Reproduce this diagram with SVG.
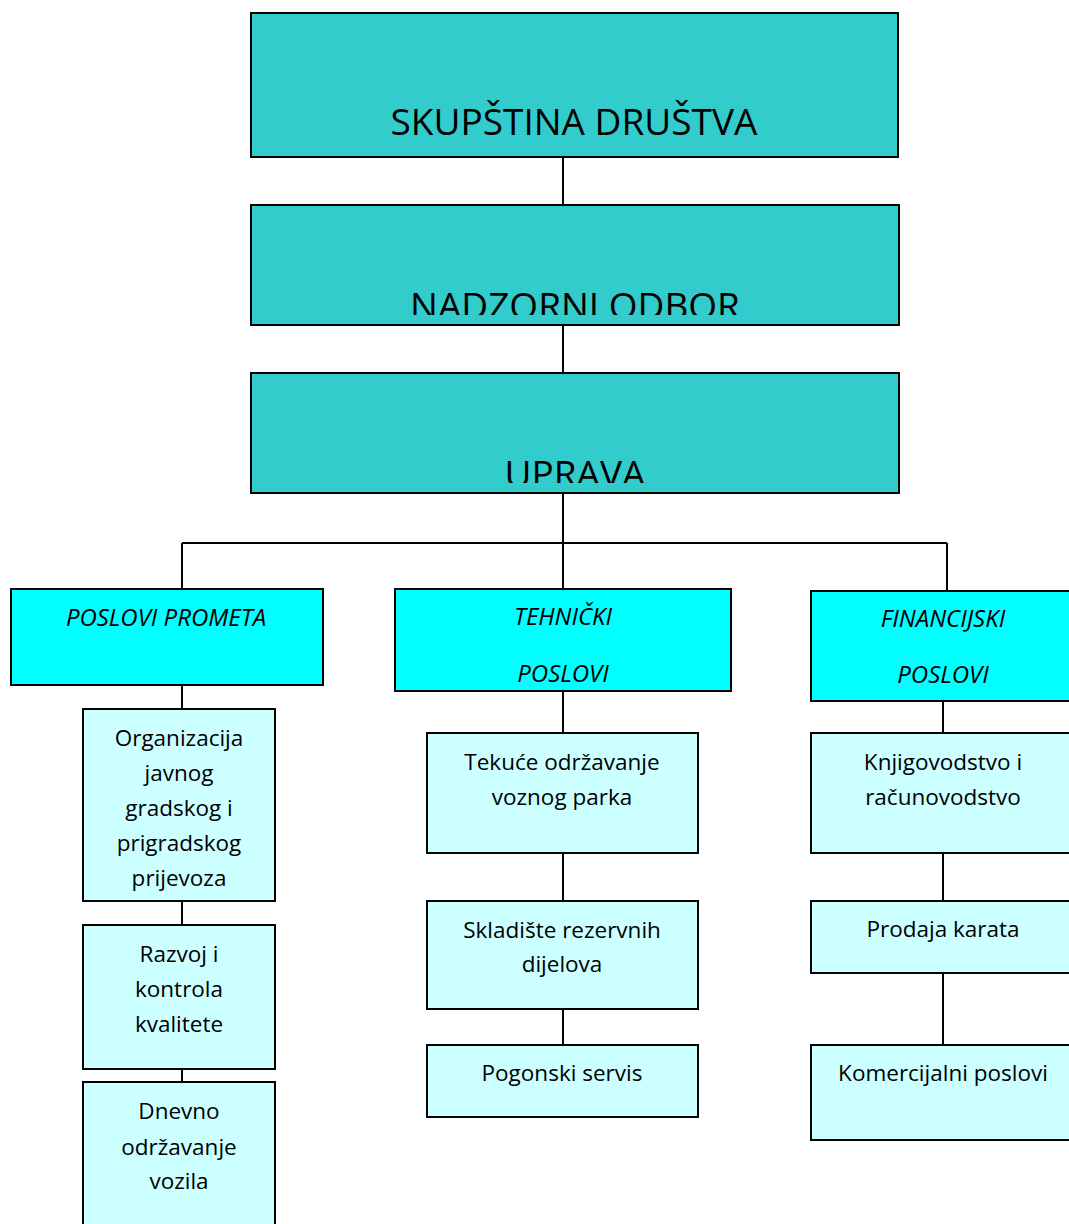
<svg xmlns="http://www.w3.org/2000/svg" width="1069" height="1224" viewBox="0 0 1069 1224">
<style>
.top{fill:#33CCCC;stroke:#000;stroke-width:2}
.hd{fill:#00FFFF;stroke:#000;stroke-width:2}
.sb{fill:#CCFFFF;stroke:#000;stroke-width:2}
.big{font-family:"Open Sans","Noto Sans",sans-serif;font-size:37px;fill:#000;text-anchor:middle}
.it{font-family:"Open Sans","Noto Sans",sans-serif;font-size:24px;font-style:italic;fill:#000;text-anchor:middle}
.tx{font-family:"Open Sans","Noto Sans",sans-serif;font-size:22.5px;fill:#000;text-anchor:middle}
.ln{stroke:#000;stroke-width:2;fill:none}
</style>
<defs>
<clipPath id="c1" clipPathUnits="userSpaceOnUse"><rect x="251" y="205" width="648" height="110"/></clipPath>
<clipPath id="c2" clipPathUnits="userSpaceOnUse"><rect x="251" y="373" width="648" height="110"/></clipPath>
<clipPath id="c3" clipPathUnits="userSpaceOnUse"><rect x="395" y="589" width="336" height="94"/></clipPath>
</defs>
<g id="connectors">
<path class="ln" d="M563 157V205M563 325V373M563 493V589M182 543H947M182 543V589M947 543V591"/>
<path class="ln" d="M182 685V709M182 901V925M182 1069V1082"/>
<path class="ln" d="M563 691V733M563 853V901M563 1009V1045"/>
<path class="ln" d="M943 701V733M943 853V901M943 973V1045"/>
</g>
<g id="skupstina"><rect class="top" x="251" y="13" width="647" height="144"/><text class="big" x="574" y="135">SKUPŠTINA DRUŠTVA</text></g>
<g id="nadzorni"><rect class="top" x="251" y="205" width="648" height="120"/><text class="big" x="575" y="319" clip-path="url(#c1)">NADZORNI ODBOR</text></g>
<g id="uprava"><rect class="top" x="251" y="373" width="648" height="120"/><text class="big" x="575" y="487" clip-path="url(#c2)">UPRAVA</text></g>
<g id="promet"><rect class="hd" x="11" y="589" width="312" height="96"/><text class="it" x="166" y="626">POSLOVI PROMETA</text></g>
<g id="tehnicki"><rect class="hd" x="395" y="589" width="336" height="102"/><text class="it" x="563" y="625">TEHNIČKI</text><text class="it" x="563" y="682" clip-path="url(#c3)">POSLOVI</text></g>
<g id="financijski"><rect class="hd" x="811" y="591" width="270" height="110"/><text class="it" x="943" y="627">FINANCIJSKI</text><text class="it" x="943" y="683">POSLOVI</text></g>
<g id="organizacija"><rect class="sb" x="83" y="709" width="192" height="192"/><text class="tx" x="179" y="746">Organizacija</text><text class="tx" x="179" y="781">javnog</text><text class="tx" x="179" y="816">gradskog i</text><text class="tx" x="179" y="851">prigradskog</text><text class="tx" x="179" y="886">prijevoza</text></g>
<g id="razvoj"><rect class="sb" x="83" y="925" width="192" height="144"/><text class="tx" x="179" y="962">Razvoj i</text><text class="tx" x="179" y="997">kontrola</text><text class="tx" x="179" y="1032">kvalitete</text></g>
<g id="dnevno"><rect class="sb" x="83" y="1082" width="192" height="150"/><text class="tx" x="179" y="1119">Dnevno</text><text class="tx" x="179" y="1155">održavanje</text><text class="tx" x="179" y="1189">vozila</text></g>
<g id="tekuce"><rect class="sb" x="427" y="733" width="271" height="120"/><text class="tx" x="562" y="770">Tekuće održavanje</text><text class="tx" x="562" y="805">voznog parka</text></g>
<g id="skladiste"><rect class="sb" x="427" y="901" width="271" height="108"/><text class="tx" x="562" y="938">Skladište rezervnih</text><text class="tx" x="562" y="972">dijelova</text></g>
<g id="pogonski"><rect class="sb" x="427" y="1045" width="271" height="72"/><text class="tx" x="562" y="1081">Pogonski servis</text></g>
<g id="knjigovodstvo"><rect class="sb" x="811" y="733" width="270" height="120"/><text class="tx" x="943" y="770">Knjigovodstvo i</text><text class="tx" x="943" y="805">računovodstvo</text></g>
<g id="prodaja"><rect class="sb" x="811" y="901" width="270" height="72"/><text class="tx" x="943" y="937">Prodaja karata</text></g>
<g id="komercijalni"><rect class="sb" x="811" y="1045" width="270" height="95"/><text class="tx" x="943" y="1081">Komercijalni poslovi</text></g>
</svg>
